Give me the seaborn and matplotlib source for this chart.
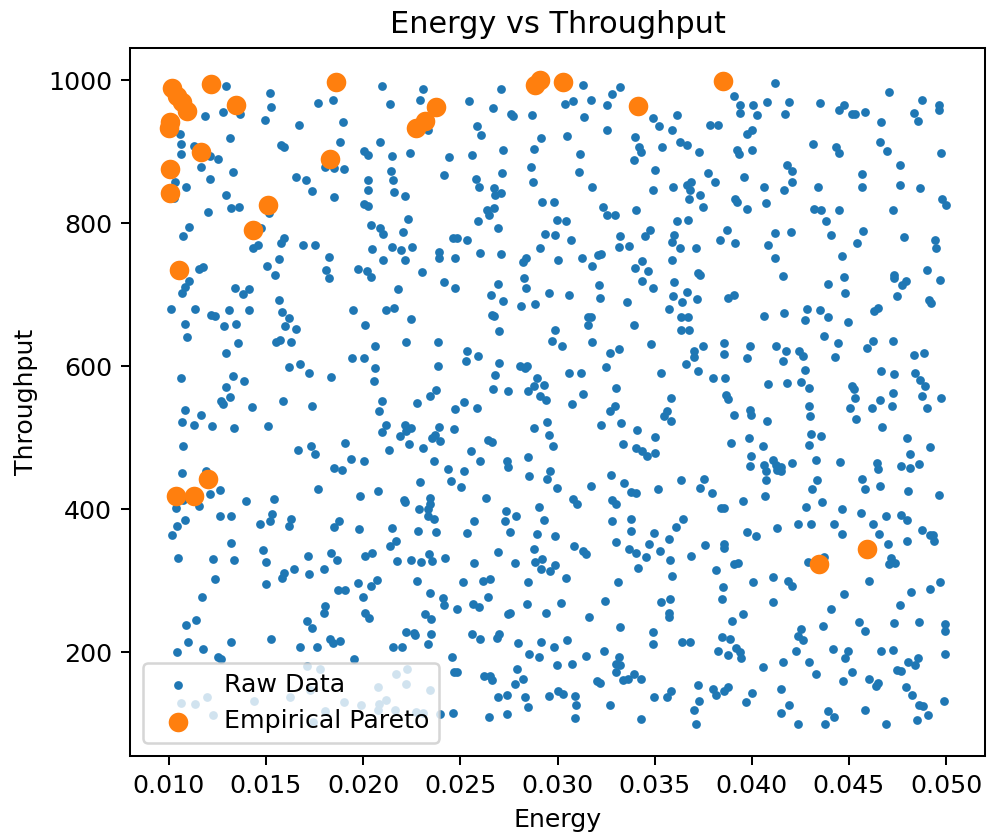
import matplotlib
matplotlib.use("Agg")
import matplotlib.pyplot as plt
import seaborn as sns
import pandas as pd

# ---- raw samples (energy, throughput) ----
raw_energy = [
    # top band, left to right
    0.01295, 0.01523, 0.01525, 0.01494, 0.01278, 0.01366, 0.01187, 0.01770, 0.01846, 0.01896,
    0.01669, 0.01882, 0.01055, 0.01064, 0.01060, 0.01129, 0.01213, 0.01251, 0.01316, 0.01578,
    0.01590, 0.01167, 0.01210, 0.01331, 0.01031, 0.01086, 0.01029, 0.01292, 0.01318, 0.01360,
    0.01201, 0.01652, 0.01707, 0.01738, 0.01849, 0.01803, 0.01848, 0.01901, 0.01515, 0.01103,
    0.01072, 0.01475, 0.01433, 0.01460, 0.01575, 0.01592, 0.01688, 0.01752, 0.01824, 0.01565,
    0.01506, 0.01544, 0.01810, 0.01822, 0.01155, 0.01175, 0.01103, 0.01081, 0.01338, 0.01415,
    0.02099, 0.02308, 0.02291, 0.02140, 0.02334, 0.02545, 0.02667, 0.02709, 0.02759, 0.02773,
    0.02867, 0.02588, 0.02608, 0.02915, 0.02881, 0.02718, 0.02558, 0.02442, 0.02087, 0.02003,
    0.02025, 0.02147, 0.02241, 0.02142, 0.02154, 0.02025, 0.02025, 0.02161, 0.02217, 0.02416,
    0.02583, 0.02598, 0.02675, 0.02680, 0.02708, 0.02716, 0.02864, 0.02874, 0.02006, 0.02027,
    0.02231, 0.02039, 0.02085, 0.02101, 0.02203, 0.02047, 0.02149, 0.02193, 0.02251, 0.02101,
    0.02215, 0.01974, 0.02022, 0.02039, 0.02301, 0.02392, 0.02389, 0.02473, 0.02462, 0.02483,
    0.02535, 0.02601, 0.02709, 0.02637, 0.02648, 0.02672, 0.02593, 0.02692, 0.02922, 0.02982,
    0.02996, 0.02934, 0.02987, 0.02912, 0.02840, 0.02824, 0.02826, 0.02836, 0.03001, 0.02692,
    0.02416, 0.02474, 0.02179,
    0.03132, 0.03041, 0.03078, 0.03174, 0.03279, 0.03322, 0.03255, 0.03137, 0.03051, 0.03257,
    0.03114, 0.03113, 0.03178, 0.03493, 0.03524, 0.03613, 0.03591, 0.03401, 0.03418, 0.03432,
    0.03392, 0.03536, 0.03632, 0.03668, 0.03727, 0.03500, 0.03493, 0.03593, 0.03776, 0.03812,
    0.03668, 0.03689, 0.03682, 0.03677, 0.03734, 0.03749, 0.03787, 0.03824, 0.03907, 0.03938,
    0.03938, 0.04005, 0.04025, 0.04080, 0.03974, 0.04003, 0.03922, 0.03936, 0.03999, 0.03962,
    0.04061, 0.04071, 0.03915, 0.03926, 0.03974, 0.03403, 0.03234, 0.03253, 0.03294, 0.03042,
    0.03071, 0.03126, 0.03176, 0.03209, 0.03222, 0.03216, 0.03320, 0.03315, 0.03370, 0.03449,
    0.03476, 0.03613, 0.03672, 0.03600, 0.03591, 0.03632, 0.03713, 0.03591, 0.03435, 0.03401,
    0.03464, 0.03437, 0.03493, 0.03601, 0.03723, 0.03734, 0.03835, 0.03871, 0.03914, 0.04082,
    0.04117, 0.04189, 0.04173, 0.04350, 0.04451, 0.04474, 0.04515, 0.04532, 0.04582, 0.04707,
    0.04666, 0.04878, 0.04834, 0.04854, 0.04962, 0.04962, 0.04314, 0.04432, 0.04448, 0.04657,
    0.04695, 0.04974, 0.04760, 0.04182, 0.04206, 0.04209, 0.04167, 0.04343, 0.04566, 0.04566,
    0.04764, 0.04866, 0.04978, 0.04998, 0.04319, 0.04357, 0.04446, 0.04381, 0.04724, 0.04119,
    0.04203, 0.04407, 0.04573, 0.04542, 0.04782, 0.04945, 0.04947, 0.04117, 0.04463, 0.04160,
    0.04474, 0.04390, 0.04731, 0.04734, 0.04772, 0.04793, 0.04899, 0.04966,
    # middle band
    0.01069, 0.01383, 0.01012, 0.01137, 0.01216, 0.01240, 0.01311, 0.01414, 0.01084, 0.01285,
    0.01345, 0.01095, 0.01354, 0.01295, 0.01565, 0.01583, 0.01616, 0.01599, 0.01655, 0.01549,
    0.01571, 0.01631, 0.01064, 0.01330, 0.01386, 0.01294, 0.01316, 0.01268, 0.01280, 0.01427,
    0.01618, 0.01674, 0.01721, 0.01834, 0.01589, 0.01736, 0.01081, 0.01165, 0.01067, 0.01129,
    0.01223, 0.01336, 0.01510, 0.01072, 0.01666, 0.01733, 0.01752, 0.01906, 0.01067, 0.01192,
    0.01210, 0.01261, 0.01072, 0.01035, 0.01153, 0.01083, 0.01040, 0.01264, 0.01319, 0.01398,
    0.01541, 0.01532, 0.01518, 0.01467, 0.01628, 0.01618, 0.01769, 0.01851, 0.01892, 0.01873,
    0.01849,
    0.02955, 0.02658, 0.02720, 0.02812, 0.02883, 0.01948, 0.02116, 0.02159, 0.02245, 0.02011,
    0.02661, 0.02672, 0.02701, 0.02989, 0.02970, 0.02063, 0.02222, 0.02385, 0.01943, 0.02003,
    0.02063, 0.02058, 0.02385, 0.02533, 0.02531, 0.02589, 0.02697, 0.02679, 0.02668, 0.02744,
    0.02809, 0.02833, 0.02845, 0.02895, 0.02931, 0.02879, 0.02850, 0.02912, 0.02941, 0.02375,
    0.02346, 0.02275, 0.02097, 0.02082, 0.02517, 0.02473, 0.02584, 0.02118, 0.02099, 0.02188,
    0.02217, 0.02245, 0.02222, 0.02238, 0.02310, 0.02354, 0.02372, 0.02394, 0.02390, 0.02468,
    0.02133, 0.01938, 0.02004, 0.02365, 0.02555, 0.02603, 0.02641, 0.02665, 0.02739, 0.02745,
    0.02848, 0.02878, 0.02948, 0.02956, 0.02979, 0.02960, 0.02946, 0.02999, 0.02852, 0.02435,
    0.02519, 0.02450, 0.02505, 0.02291, 0.02078, 0.01984, 0.02210, 0.02217, 0.02344, 0.02344,
    0.02286, 0.02336, 0.02332, 0.02365, 0.02632, 0.02572, 0.02733, 0.02787, 0.02728, 0.02903,
    0.02931, 0.02149, 0.01980,
    0.03665, 0.03059, 0.03221, 0.03358, 0.03596, 0.03641, 0.03716, 0.03876, 0.03907, 0.03576,
    0.03638, 0.03672, 0.03636, 0.03675, 0.03159, 0.03171, 0.03157, 0.03394, 0.04061, 0.03025,
    0.03178, 0.03272, 0.03318, 0.03252, 0.03481, 0.03059, 0.03121, 0.03130, 0.03077, 0.03303,
    0.03272, 0.03296, 0.03226, 0.03329, 0.03408, 0.03535, 0.03586, 0.03562, 0.03548, 0.03584,
    0.03700, 0.03703, 0.03751, 0.03663, 0.03725, 0.03800, 0.03859, 0.03859, 0.03862, 0.03989,
    0.03977, 0.04082, 0.03867, 0.03879, 0.03910, 0.03989, 0.03996, 0.04077, 0.03504, 0.03339,
    0.03403, 0.03437, 0.03459, 0.03502, 0.03895, 0.03986, 0.04056, 0.03994, 0.03991, 0.04063,
    0.04075, 0.04071, 0.04070, 0.03171, 0.03274, 0.03341, 0.03379, 0.03403, 0.03519, 0.03634,
    0.03752, 0.03735, 0.03795, 0.03957, 0.03082, 0.03102, 0.03279, 0.03303, 0.03282, 0.03379,
    0.03648, 0.03608, 0.03840, 0.03857,
    0.04479, 0.04748, 0.04914, 0.04923, 0.04163, 0.04285, 0.04275, 0.04352, 0.04393, 0.04496,
    0.04631, 0.04647, 0.04124, 0.04177, 0.04160, 0.04244, 0.04261, 0.04371, 0.04443, 0.04427,
    0.04595, 0.04626, 0.04727, 0.04836, 0.04884, 0.04276, 0.04179, 0.04254, 0.04295, 0.04667,
    0.04734, 0.04842, 0.04863, 0.04889, 0.04877, 0.04971, 0.04902, 0.04513, 0.04525, 0.04530,
    0.04503, 0.04616, 0.04662, 0.04727, 0.04722, 0.04292, 0.04299, 0.04535, 0.04671, 0.04302,
    0.04355, 0.04292, 0.04800, 0.04916, 0.04813, 0.04110, 0.04124, 0.04151, 0.04149, 0.04127,
    0.04208, 0.04328, 0.04453, 0.04643, 0.04647, 0.04767, 0.04815, 0.04860, 0.04333, 0.04309,
    0.04568, 0.04580, 0.04662, 0.04805, 0.04964, 0.04280, 0.04359, 0.04462, 0.04561, 0.04688,
    0.04769, 0.04796, 0.04132, 0.04239, 0.04302, 0.04424, 0.04626,
    # bottom band
    0.01014, 0.01047, 0.01227, 0.01333, 0.01319, 0.01239, 0.01173, 0.01086, 0.01139, 0.01098,
    0.01041, 0.01177, 0.01321, 0.01252, 0.01268, 0.01487, 0.01498, 0.01500, 0.01580, 0.01592,
    0.01645, 0.01717, 0.01722, 0.01796, 0.01832, 0.01863, 0.01870, 0.01904, 0.01805, 0.01800,
    0.01710, 0.01738, 0.01525, 0.01673, 0.01762, 0.01827, 0.01844, 0.01882, 0.01710, 0.01777,
    0.01064, 0.01137, 0.01196, 0.01228, 0.01438, 0.01621, 0.01724, 0.01801, 0.01899, 0.01741,
    0.02284, 0.02373, 0.02533, 0.02757, 0.02893, 0.02989, 0.02137, 0.02167, 0.02008, 0.02044,
    0.02174, 0.02246, 0.02296, 0.02339, 0.02354, 0.02420, 0.02571, 0.02694, 0.02781, 0.02878,
    0.02886, 0.02919, 0.02917, 0.02963, 0.02987, 0.01974, 0.02039, 0.02070, 0.01998, 0.02277,
    0.02342, 0.02411, 0.02414, 0.02481, 0.02514, 0.02615, 0.02653, 0.02644, 0.02567, 0.02595,
    0.02847, 0.02845, 0.02941, 0.02011, 0.02028, 0.02320, 0.02348, 0.02745, 0.02757, 0.02219,
    0.02262, 0.02269, 0.02348, 0.02334, 0.02154, 0.02198, 0.02559, 0.02603, 0.02687, 0.02699,
    0.02799, 0.02917, 0.02980, 0.02852, 0.02903, 0.02999, 0.01955, 0.02457, 0.02466, 0.02481,
    0.02622, 0.02655, 0.02663, 0.02793, 0.02821, 0.02781, 0.02692, 0.02739, 0.02831, 0.02847,
    0.02958, 0.03004, 0.02740, 0.02648, 0.02461, 0.02171, 0.02226, 0.02219, 0.02077, 0.02342,
    0.02116, 0.02083, 0.02077, 0.02162, 0.02274, 0.02308, 0.02397, 0.01991,
    0.03378, 0.03497, 0.03974, 0.04020, 0.03083, 0.03133, 0.03147, 0.03303, 0.03366, 0.03402,
    0.03471, 0.03528, 0.03574, 0.03456, 0.03416, 0.03581, 0.03591, 0.03689, 0.03761, 0.03857,
    0.03859, 0.03910, 0.03931, 0.03816, 0.03850, 0.03849, 0.04008, 0.03042, 0.03310, 0.03020,
    0.03243, 0.03164, 0.03320, 0.03535, 0.03577, 0.03572, 0.03574, 0.03490, 0.03492, 0.03641,
    0.03684, 0.03897, 0.03953, 0.03845, 0.03888, 0.03917, 0.03941, 0.03946, 0.03824, 0.03879,
    0.04056, 0.03049, 0.03075, 0.03149, 0.03240, 0.03317, 0.03300, 0.03322, 0.03301, 0.03336,
    0.03365, 0.03394, 0.03430, 0.03205, 0.03221, 0.03027, 0.03089, 0.03094, 0.03092, 0.03272,
    0.03432, 0.03495, 0.03562, 0.03583, 0.03723, 0.03727, 0.03703, 0.03711, 0.03802, 0.03816,
    0.03855, 0.03879, 0.04001, 0.03969,
    0.04462, 0.04652, 0.04878, 0.04916, 0.04932, 0.04938, 0.04702, 0.04801, 0.04287, 0.04369,
    0.04715, 0.04707, 0.04738, 0.04107, 0.04185, 0.04206, 0.04602, 0.04110, 0.04475, 0.04407,
    0.04762, 0.04820, 0.04916, 0.04969, 0.04364, 0.04252, 0.04235, 0.04263, 0.04554, 0.04580,
    0.04733, 0.04858, 0.04995, 0.04992, 0.04227, 0.04161, 0.04294, 0.04331, 0.04417, 0.04496,
    0.04481, 0.04513, 0.04470, 0.04664, 0.04726, 0.04853, 0.04803, 0.04841, 0.04746, 0.04769,
    0.04993, 0.04604, 0.04638, 0.04649, 0.04794, 0.04825, 0.04860, 0.04880, 0.04906, 0.04851,
    0.04990, 0.04149, 0.04191, 0.04149, 0.04235, 0.04393, 0.04422, 0.04374, 0.04580, 0.04691,
]

raw_throughput = [
    # top band
    992, 982, 962, 945, 955, 953, 950, 968, 972, 941,
    937, 914, 925, 911, 897, 908, 894, 890, 919, 910,
    907, 879, 862, 871, 857, 850, 835, 840, 821, 822,
    816, 865, 860, 845, 836, 878, 877, 876, 814, 795,
    782, 794, 766, 769, 772, 779, 769, 769, 753, 750,
    740, 728, 735, 724, 736, 739, 719, 711, 710, 708,
    992, 988, 973, 967, 931, 971, 961, 988, 953, 950,
    952, 936, 924, 919, 904, 902, 895, 892, 913, 901,
    895, 894, 898, 873, 860, 861, 847, 843, 838, 867,
    862, 850, 849, 839, 842, 870, 878, 857, 827, 824,
    806, 798, 794, 785, 788, 764, 767, 762, 767, 749,
    748, 736, 733, 725, 732, 760, 751, 751, 780, 780,
    776, 758, 757, 818, 812, 821, 803, 794, 830, 830,
    804, 785, 784, 765, 752, 746, 724, 710, 749, 715,
    718, 709, 708,
    993, 967, 971, 973, 981, 990, 965, 948, 922, 930,
    897, 871, 850, 947, 936, 952, 930, 921, 907, 899,
    888, 907, 914, 910, 899, 874, 846, 850, 870, 857,
    854, 857, 847, 834, 839, 823, 938, 938, 978, 965,
    954, 965, 952, 970, 925, 930, 902, 897, 903, 865,
    851, 828, 834, 830, 820, 818, 822, 811, 811, 803,
    776, 752, 740, 756, 757, 714, 782, 767, 768, 782,
    791, 803, 804, 784, 774, 765, 765, 749, 747, 737,
    733, 719, 709, 718, 730, 727, 776, 790, 772, 769,
    996, 970, 953, 968, 959, 966, 953, 953, 955, 984,
    941, 973, 954, 943, 965, 959, 911, 907, 898, 914,
    901, 898, 882, 881, 873, 857, 847, 851, 869, 850,
    853, 849, 834, 826, 820, 818, 819, 803, 818, 786,
    788, 784, 789, 773, 781, 776, 765, 751, 754, 726,
    725, 715, 728, 724, 714, 719, 735, 720,
    # middle band
    703, 701, 680, 680, 671, 670, 679, 679, 659, 656,
    659, 641, 633, 619, 692, 676, 668, 656, 652, 634,
    637, 634, 584, 586, 580, 571, 557, 551, 547, 543,
    599, 603, 590, 585, 551, 545, 539, 532, 522, 518,
    516, 513, 516, 488, 483, 489, 478, 492, 451, 453,
    422, 427, 413, 402, 404, 385, 376, 390, 390, 412,
    415, 394, 384, 379, 386, 376, 428, 458, 455, 384,
    375,
    703, 700, 691, 684, 687, 679, 679, 682, 666, 657,
    671, 670, 649, 651, 635, 628, 634, 634, 612, 611,
    598, 580, 600, 621, 608, 614, 604, 588, 568, 565,
    601, 597, 600, 583, 574, 573, 566, 558, 553, 567,
    558, 549, 551, 538, 550, 540, 541, 518, 508, 503,
    518, 514, 510, 491, 486, 499, 504, 496, 515, 512,
    483, 471, 468, 467, 482, 468, 497, 494, 468, 459,
    473, 513, 522, 504, 489, 454, 442, 430, 447, 456,
    453, 440, 431, 438, 426, 419, 413, 410, 416, 407,
    400, 400, 391, 387, 416, 383, 397, 391, 384, 403,
    385, 374, 372,
    704, 700, 696, 690, 698, 690, 694, 696, 700, 680,
    669, 669, 650, 650, 669, 669, 657, 657, 670, 628,
    634, 619, 624, 599, 631, 590, 591, 561, 547, 570,
    538, 544, 518, 521, 511, 591, 556, 538, 531, 524,
    621, 613, 628, 603, 593, 584, 632, 617, 583, 629,
    611, 575, 560, 554, 532, 539, 532, 524, 501, 491,
    485, 481, 474, 479, 492, 500, 488, 474, 461, 462,
    454, 441, 418, 433, 448, 437, 424, 423, 428, 441,
    443, 430, 423, 411, 415, 407, 413, 407, 383, 387,
    387, 375, 402, 402,
    703, 698, 693, 689, 675, 680, 665, 678, 669, 662,
    677, 682, 629, 621, 608, 621, 614, 642, 632, 613,
    625, 635, 635, 616, 618, 595, 577, 578, 569, 593,
    589, 591, 581, 572, 558, 555, 542, 572, 568, 555,
    542, 542, 553, 563, 544, 545, 531, 526, 515, 505,
    503, 490, 499, 487, 477, 469, 462, 459, 454, 455,
    465, 469, 466, 465, 457, 461, 458, 463, 441, 429,
    443, 428, 433, 426, 420, 403, 410, 401, 395, 390,
    392, 385, 374, 379, 380, 380, 379,
    # bottom band
    364, 332, 330, 329, 353, 302, 278, 238, 245, 214,
    201, 204, 215, 193, 190, 343, 326, 295, 304, 311,
    317, 334, 309, 317, 339, 329, 287, 287, 265, 255,
    244, 234, 219, 208, 208, 218, 213, 216, 181, 177,
    129, 128, 137, 113, 132, 137, 147, 118, 131, 103,
    370, 368, 367, 368, 365, 362, 348, 356, 334, 339,
    328, 329, 326, 338, 327, 332, 325, 340, 325, 344,
    326, 330, 317, 314, 322, 297, 293, 301, 278, 300,
    283, 276, 266, 260, 298, 300, 302, 278, 268, 264,
    298, 268, 255, 255, 248, 254, 247, 253, 255, 228,
    227, 224, 225, 212, 207, 208, 226, 218, 220, 226,
    213, 215, 207, 198, 193, 182, 190, 193, 172, 173,
    167, 167, 161, 177, 163, 156, 137, 141, 138, 124,
    139, 146, 114, 109, 115, 169, 177, 155, 151, 147,
    133, 128, 120, 120, 116, 115, 114, 126,
    369, 367, 368, 362, 349, 342, 337, 354, 344, 339,
    352, 342, 359, 333, 318, 329, 307, 335, 350, 352,
    346, 324, 325, 315, 292, 275, 298, 304, 299, 269,
    272, 250, 236, 270, 275, 255, 249, 228, 212, 214,
    215, 244, 254, 221, 219, 206, 201, 192, 202, 196,
    180, 217, 183, 195, 202, 194, 184, 182, 172, 161,
    162, 170, 163, 160, 157, 142, 139, 127, 108, 126,
    107, 137, 138, 146, 154, 132, 119, 100, 149, 141,
    146, 152, 143, 131,
    365, 365, 371, 364, 364, 356, 352, 356, 326, 333,
    332, 324, 325, 305, 300, 293, 300, 271, 282, 261,
    266, 285, 288, 298, 237, 232, 223, 217, 242, 230,
    241, 242, 240, 230, 202, 186, 187, 169, 205, 202,
    192, 172, 160, 202, 203, 192, 187, 182, 175, 174,
    198, 162, 153, 157, 152, 140, 126, 125, 112, 105,
    132, 149, 127, 115, 100, 118, 110, 100, 119, 100,
]

# ---- empirical pareto points ----
pareto_energy = [0.01017, 0.01043, 0.01069, 0.01095, 0.01215, 0.01347, 0.01007, 0.01000,
                 0.01167, 0.01005, 0.01004, 0.01510, 0.01433, 0.01050, 0.01861, 0.01827,
                 0.02373, 0.02317, 0.02274, 0.02883, 0.02908, 0.03027, 0.03416, 0.03850,
                 0.01201, 0.01038, 0.01129, 0.04592, 0.04345]
pareto_throughput = [989, 978, 970, 957, 994, 966, 941, 933,
                     900, 876, 842, 825, 791, 734, 998, 890,
                     963, 943, 933, 993, 1000, 997, 964, 999,
                     443, 418, 419, 345, 323]

raw = pd.DataFrame({"Energy": raw_energy, "Throughput": raw_throughput})
pareto = pd.DataFrame({"Energy": pareto_energy, "Throughput": pareto_throughput})

dpi = 182
fig = plt.figure(figsize=(987 / dpi, 835 / dpi), dpi=dpi)
ax = fig.add_axes([0.1317, 0.0946, 0.8663, 0.8479])

sns.scatterplot(data=raw, x="Energy", y="Throughput", s=12, color="#1f77b4",
                linewidth=0, label="Raw Data", ax=ax)
sns.scatterplot(data=pareto, x="Energy", y="Throughput", s=60, color="#ff7f0e",
                linewidth=0, label="Empirical Pareto", ax=ax)

ax.set_xlim(0.008, 0.052)
ax.set_ylim(55, 1045)
ax.set_title("Energy vs Throughput")
ax.legend(loc="lower left")

fig.savefig("out.png", dpi=dpi)
